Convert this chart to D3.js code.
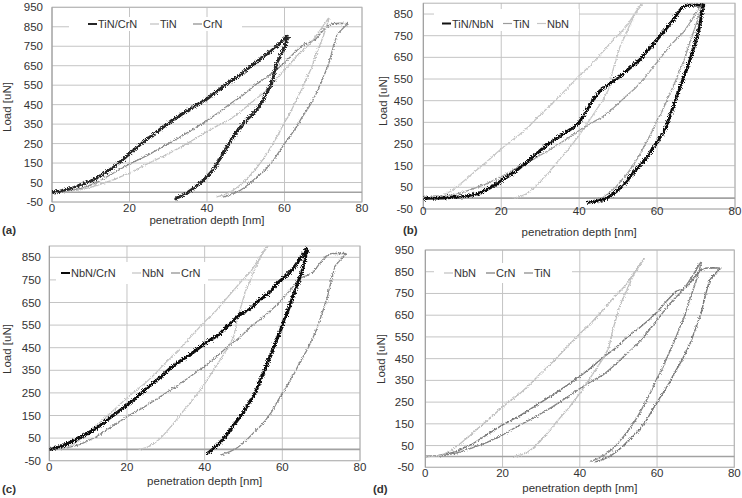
<!DOCTYPE html>
<html><head><meta charset="utf-8">
<script src="https://cdn.jsdelivr.net/npm/d3@7"></script>
<style>
body{margin:0;background:#fff}
text{font-family:"Liberation Sans",Arial,sans-serif;fill:#333}
</style>
</head><body>
<svg id="chart" width="742" height="498"></svg>
<script>
// ---------- data: [penetration depth nm, load uN] ----------
const xTicks = [0, 20, 40, 60, 80];
const yTicksFull = [-50, 50, 150, 250, 350, 450, 550, 650, 750, 850, 950];
const yTicksShort = [-50, 50, 150, 250, 350, 450, 550, 650, 750, 850];

const tinLoading = [[0,0],[4,3],[8,15],[12,38],[16,65],[20,99],[24,140],[28.7,184],[33,229],[36.5,270],[40,312],[43,345],[46,375],[49,420],[52,470],[54.5,509],[57,560],[59,605],[61,650],[63.4,705],[65,735],[66.8,766],[68.5,812],[69.5,840],[70.5,870],[71.3,893]];
const tinUnloading = [[71.5,893],[70.8,850],[70,800],[69.2,760],[68.3,714],[67,640],[65.8,590],[64.5,530],[63.2,480],[62,430],[61,390],[60,360],[58.5,300],[57,250],[55.5,200],[54.5,170],[53.2,135],[52.2,110],[51,85],[49.5,53],[48,28],[46.5,8],[45,-8],[43.5,-18],[42.5,-24]];

const crnLoading = [[0,0],[4,5],[8,22],[12,55],[16,100],[20,145],[24.5,188],[28.7,235],[33,283],[36.5,325],[40,368],[43,410],[46,455],[49,495],[52,545],[55,585],[58,630],[60,665],[62.5,715],[64.9,760],[66.5,770],[68,785],[69.5,820],[71,852],[72.5,866],[74.5,868],[76.5,866]];
const crnUnloading = [[76.5,866],[75.5,850],[74.5,830],[73.6,812],[72.5,740],[71.4,660],[70,590],[68.8,530],[67.5,480],[66.2,435],[64.5,385],[63.2,340],[61.5,290],[60,250],[58.5,205],[57.2,165],[55.5,125],[54.2,100],[52.5,72],[51,45],[49.5,22],[48,3],[46.5,-10],[45,-20],[44,-25]];

const nbnLoading = [[0,0],[3,2],[5,12],[7,32],[9,58],[11.5,95],[14,135],[16.5,172],[19,212],[21.5,250],[24.5,290],[27,330],[30,385],[33,435],[36.5,500],[40,565],[43,615],[46,675],[49,735],[52,790],[54,845],[55.5,885],[56.7,910]];
const nbnUnloading = [[56.7,910],[55.5,880],[54.2,845],[53,800],[51.8,750],[50.5,700],[49.5,640],[48.5,580],[47.5,500],[46,450],[44.5,410],[43,370],[41.5,330],[40,290],[38.5,255],[37,220],[35.5,190],[34,160],[32.5,125],[31,95],[29.5,65],[28,40],[26.5,20],[25,8],[23.5,1],[23,0]];

const tinCrnLoading = [[0,0],[2,5],[4,15],[6,28],[8,42],[10,57],[12,80],[14,103],[16,130],[18,163],[20,198],[22,232],[24,265],[26,295],[28.7,335],[31,370],[33,395],[35,420],[37,445],[39.7,475],[42,510],[44,540],[46,570],[48.5,600],[50.5,635],[52.5,665],[54.5,697],[56.5,725],[58,750],[59.5,780],[60.6,799]];
const tinCrnUnloading = [[61,795],[60.6,782],[60,745],[59,705],[58,663],[57.2,600],[56.3,543],[55,495],[53.8,450],[52.8,423],[51.5,395],[50.4,375],[49.4,355],[48,320],[46.8,286],[45.5,245],[44.2,201],[43,160],[41.6,116],[40,80],[38.2,47],[36.5,20],[34.8,-4],[33.5,-18],[32.2,-29],[31.8,-40]];

const tinNbnLoading = [[0,0],[5,1],[10,6],[14,20],[18,55],[20,80],[23,115],[26,158],[29,205],[32,250],[35,285],[38,320],[40,350],[41.5,390],[43,440],[45.3,495],[48,530],[50.4,561],[53,600],[55.6,640],[58,690],[59.9,730],[62,775],[64.1,822],[65.5,860],[66.7,884],[68,890],[70,892],[72,892]];
const tinNbnUnloading = [[72,890],[71.5,860],[71,800],[70.5,760],[69.5,700],[68.5,640],[67.5,590],[66.5,540],[65.5,490],[64.5,440],[63.5,390],[62.5,340],[61.5,300],[60,260],[58.5,220],[57,180],[55.5,150],[54,120],[52.5,85],[51,55],[49.5,30],[48,10],[46.5,-5],[45,-12],[43.5,-16],[42,-20]];

const nbnCrnLoading = [[0,0],[2,8],[4.5,24],[6.5,40],[8.8,61],[11,82],[13,105],[16,145],[19.9,194],[23,238],[25.9,282],[29,325],[31.9,371],[34.5,400],[37.1,430],[39.9,467],[42,490],[43.9,511],[45.5,540],[47.4,570],[49,595],[51.7,621],[54,660],[56.8,695],[59,740],[61.1,769],[63,805],[64.5,842],[65.5,865],[66.3,886]];
const nbnCrnUnloading = [[66.5,885],[66,850],[65.3,800],[64.5,760],[63.6,720],[62.8,680],[61.8,630],[61.1,600],[60.2,560],[59.4,520],[58.5,485],[57.7,450],[56.8,410],[56,375],[55.1,335],[54.2,300],[53.4,265],[52.5,235],[51.2,200],[50,165],[48.7,135],[47.4,105],[46.1,75],[44.8,46],[43.5,22],[42.2,2],[41.3,-10],[40.5,-20]];

const tin = tinLoading.concat(tinUnloading);
const crn = crnLoading.concat(crnUnloading);
const nbn = nbnLoading.concat(nbnUnloading);
const tinCrn = tinCrnLoading.concat(tinCrnUnloading);
const tinNbn = tinNbnLoading.concat(tinNbnUnloading);
const nbnCrn = nbnCrnLoading.concat(nbnCrnUnloading);

// ---------- layout ----------
const panels = [
  {tag:"(a)", x0:52, x1:362, yT:7.3, yB:202, dom:[-50,950], ticks:yTicksFull,
   tagPos:[2,234], titleY:224, xLabY:212, yTitle:[7,107], labelRight:43,
   box:[69,17,173,14], legY:24,
   series:[{name:"TiN/CrN",data:tinCrn,color:"#262626",w:3,j:"jb",lx:88},
           {name:"TiN",data:tin,color:"#c0c0c0",w:1.3,j:"jg",lx:150},
           {name:"CrN",data:crn,color:"#8a8a8a",w:1.3,j:"jg",lx:193}]},
  {tag:"(b)", x0:423.3, x1:735, yT:3.2, yB:209, dom:[-50,900], ticks:yTicksShort,
   tagPos:[403,234], titleY:236, xLabY:215, yTitle:[383,101], labelRight:413,
   box:[434,9,145,22], legY:23.5,
   series:[{name:"TiN/NbN",data:tinNbn,color:"#111",w:3,j:"jb",lx:442},
           {name:"TiN",data:tin,color:"#9c9c9c",w:1.3,j:"jg",lx:503},
           {name:"NbN",data:nbn,color:"#c6c6c6",w:1.3,j:"jg",lx:537}]},
  {tag:"(c)", x0:49.3, x1:360, yT:246, yB:460.7, dom:[-50,900], ticks:yTicksShort,
   tagPos:[2,493], titleY:485, xLabY:471, yTitle:[7,349], labelRight:41,
   box:[56,262,152,22], legY:273,
   series:[{name:"NbN/CrN",data:nbnCrn,color:"#0a0a0a",w:3.1,j:"jb",lx:61},
           {name:"NbN",data:nbn,color:"#c4c4c4",w:1.3,j:"jg",lx:132},
           {name:"CrN",data:crn,color:"#8a8a8a",w:1.3,j:"jg",lx:171}]},
  {tag:"(d)", x0:425.3, x1:734.3, yT:250, yB:467.3, dom:[-50,950], ticks:yTicksFull,
   tagPos:[373,493], titleY:492, xLabY:477, yTitle:[381,359], labelRight:414,
   box:[434,263,138,20], legY:273,
   series:[{name:"NbN",data:nbn,color:"#c0c0c0",w:1.4,j:"jg",lx:444},
           {name:"CrN",data:crn,color:"#7a7a7a",w:1.4,j:"jg",lx:486},
           {name:"TiN",data:tin,color:"#858585",w:1.4,j:"jg",lx:524}]}
];

const svg = d3.select("#chart");
svg.append("rect").attr("width",742).attr("height",498).attr("fill","#fff");

const defs = svg.append("defs");
[[3.4,"jg",1.3],[5.5,"jb",1.1]].forEach(([s,id,fr])=>{
  const f = defs.append("filter").attr("id",id).attr("x","-10%").attr("y","-10%").attr("width","120%").attr("height","120%");
  f.append("feTurbulence").attr("type","fractalNoise").attr("baseFrequency",fr).attr("numOctaves",2).attr("seed",7).attr("result","n");
  f.append("feDisplacementMap").attr("in","SourceGraphic").attr("in2","n").attr("scale",s).attr("xChannelSelector","R").attr("yChannelSelector","G");
});

panels.forEach(p=>{
  const x = d3.scaleLinear().domain([0,80]).range([p.x0,p.x1]);
  const y = d3.scaleLinear().domain(p.dom).range([p.yB,p.yT]);
  const g = svg.append("g");

  // grid
  g.append("g").selectAll("line").data(p.ticks).join("line")
    .attr("x1",p.x0).attr("x2",p.x1).attr("y1",d=>y(d)).attr("y2",d=>y(d))
    .attr("stroke","#c4c4c4").attr("stroke-width",1);
  g.append("g").selectAll("line").data(xTicks.slice(1)).join("line")
    .attr("x1",d=>x(d)).attr("x2",d=>x(d)).attr("y1",p.yT).attr("y2",p.yB)
    .attr("stroke","#c4c4c4").attr("stroke-width",1);
  // frame
  g.append("rect").attr("x",p.x0).attr("y",p.yT).attr("width",p.x1-p.x0).attr("height",p.yB-p.yT)
    .attr("fill","none").attr("stroke","#b4b4b4").attr("stroke-width",1);
  g.append("line").attr("x1",p.x0).attr("x2",p.x0).attr("y1",p.yT).attr("y2",p.yB).attr("stroke","#9a9a9a");
  // zero line
  g.append("line").attr("x1",p.x0).attr("x2",p.x1).attr("y1",y(0)).attr("y2",y(0))
    .attr("stroke","#a2a2a2").attr("stroke-width",1.6);

  // legend box (covers gridlines)
  g.append("rect").attr("x",p.box[0]).attr("y",p.box[1]).attr("width",p.box[2]).attr("height",p.box[3]).attr("fill","#fff");

  // curves
  const line = d3.line().x(d=>x(d[0])).y(d=>y(d[1]));
  const clipId = "clip"+p.tag.replace(/[()]/g,"");
  defs.append("clipPath").attr("id",clipId).append("rect")
    .attr("x",p.x0).attr("y",p.yT).attr("width",p.x1-p.x0+8).attr("height",p.yB-p.yT);
  const cg = g.append("g").attr("clip-path",`url(#${clipId})`);
  p.series.slice().reverse().forEach(s=>{
    cg.append("path").datum(s.data).attr("d",line).attr("fill","none")
      .attr("stroke",s.color).attr("stroke-width",s.w).attr("stroke-linejoin","round")
      .attr("filter",`url(#${s.j})`);
  });

  // legend
  p.series.forEach(s=>{
    g.append("line").attr("x1",s.lx).attr("x2",s.lx+9).attr("y1",p.legY).attr("y2",p.legY)
      .attr("stroke",s.color).attr("stroke-width",s.w>2?2:1.2);
    g.append("text").attr("x",s.lx+10).attr("y",p.legY+4).attr("font-size",11).text(s.name);
  });

  // axis labels
  g.append("g").selectAll("text").data(p.ticks).join("text")
    .attr("x",p.labelRight).attr("y",d=>y(d)+4).attr("text-anchor","end").attr("font-size",11.5).text(d=>d);
  g.append("g").selectAll("text").data(xTicks).join("text")
    .attr("x",d=>x(d)).attr("y",p.xLabY).attr("text-anchor","middle").attr("font-size",11.5).text(d=>d);
  g.append("text").attr("x",(p.x0+p.x1)/2).attr("y",p.titleY).attr("text-anchor","middle")
    .attr("font-size",11.5).text("penetration depth [nm]");
  g.append("text").attr("transform",`translate(${p.yTitle[0]+4},${p.yTitle[1]}) rotate(-90)`)
    .attr("text-anchor","middle").attr("font-size",11.5).text("Load [uN]");
  g.append("text").attr("x",p.tagPos[0]).attr("y",p.tagPos[1]).attr("font-size",11.5)
    .attr("font-weight","bold").text(p.tag);
});
</script>
</body></html>
